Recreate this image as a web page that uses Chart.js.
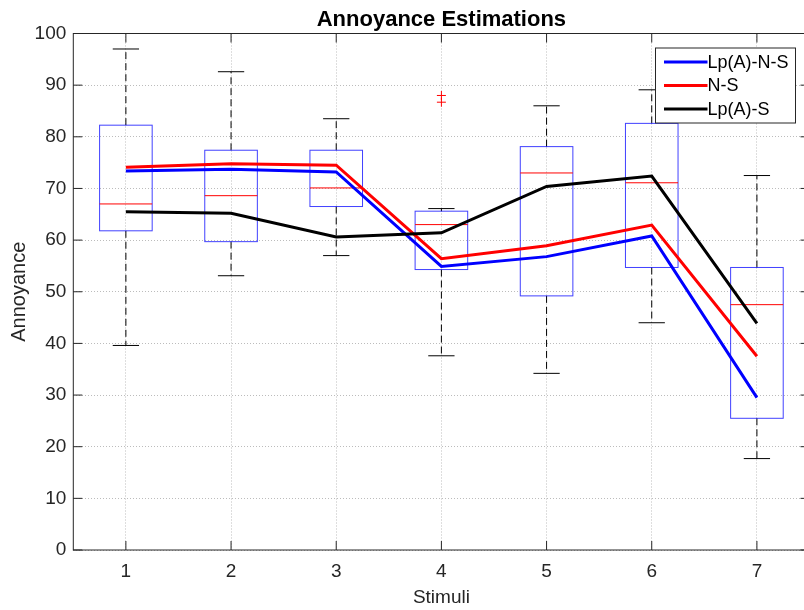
<!DOCTYPE html>
<html>
<head>
<meta charset="utf-8">
<script src="https://cdn.jsdelivr.net/npm/chart.js@4"></script>
<style>
  html, body { margin: 0; padding: 0; background: #fff; overflow: hidden; }
  canvas { display: block; }
</style>
</head>
<body>
<!-- canvas a bit wider than the window: the figure's right axis is cut off -->
<canvas id="annoyChart" width="812" height="610"></canvas>
<script>
// data
const stimuli = [1, 2, 3, 4, 5, 6, 7];
const yTicks = [0, 10, 20, 30, 40, 50, 60, 70, 80, 90, 100];

const lpANS = [73.4, 73.7, 73.2, 54.9, 56.8, 60.8, 29.5];
const ns    = [74.1, 74.8, 74.5, 56.4, 58.9, 62.9, 37.5];
const lpAS  = [65.5, 65.2, 60.6, 61.4, 70.4, 72.4, 43.9];

// boxplot stats
const whiskerLow  = [39.6, 53.1, 57.0, 37.6, 34.2, 44.0, 17.7];
const boxQ1       = [61.8, 59.7, 66.5, 54.3, 49.2, 54.7, 25.5];
const boxMedian   = [67.0, 68.6, 70.1, 63.0, 73.0, 71.1, 47.5];
const boxQ3       = [82.25, 77.4, 77.4, 65.6, 78.1, 82.6, 54.7];
const whiskerHigh = [97.0, 92.6, 83.5, 66.1, 86.0, 89.1, 72.5];
const outlierX = [4, 4];
const outlierY = [88.0, 86.7];

const FONT = "'Liberation Sans', Arial, sans-serif";
const AXIS_COLOR = "#262626";

const toXY = ys => ys.map((y, i) => ({ x: stimuli[i], y: y }));

// boxes, whiskers and medians (drawn under the lines)
const boxPlugin = {
  id: "boxes",
  beforeDatasetsDraw(chart) {
    const { ctx, scales: { x, y } } = chart;
    ctx.save();
    stimuli.forEach((s, i) => {
      const xl = x.getPixelForValue(s - 0.25), xr = x.getPixelForValue(s + 0.25);
      const cl = x.getPixelForValue(s - 0.125), cr = x.getPixelForValue(s + 0.125);
      const xc = x.getPixelForValue(s);
      // whiskers
      ctx.strokeStyle = "#000";
      ctx.lineWidth = 1;
      ctx.setLineDash([7, 4]);
      ctx.beginPath();
      ctx.moveTo(xc, y.getPixelForValue(boxQ3[i]));
      ctx.lineTo(xc, y.getPixelForValue(whiskerHigh[i]));
      ctx.moveTo(xc, y.getPixelForValue(boxQ1[i]));
      ctx.lineTo(xc, y.getPixelForValue(whiskerLow[i]));
      ctx.stroke();
      ctx.setLineDash([]);
      ctx.beginPath();
      ctx.moveTo(cl, y.getPixelForValue(whiskerHigh[i]));
      ctx.lineTo(cr, y.getPixelForValue(whiskerHigh[i]));
      ctx.moveTo(cl, y.getPixelForValue(whiskerLow[i]));
      ctx.lineTo(cr, y.getPixelForValue(whiskerLow[i]));
      ctx.stroke();
      // box
      ctx.strokeStyle = "rgba(0,0,255,0.75)";
      const yt = y.getPixelForValue(boxQ3[i]), yb = y.getPixelForValue(boxQ1[i]);
      ctx.strokeRect(xl, yt, xr - xl, yb - yt);
      // median
      ctx.strokeStyle = "#ff0000";
      ctx.beginPath();
      ctx.moveTo(xl, y.getPixelForValue(boxMedian[i]));
      ctx.lineTo(xr, y.getPixelForValue(boxMedian[i]));
      ctx.stroke();
    });
    ctx.restore();
  }
};

// matlab style frame with inward ticks, title and legend
const framePlugin = {
  id: "frame",
  afterDraw(chart) {
    const { ctx, chartArea: a, scales: { x, y } } = chart;
    ctx.save();
    ctx.strokeStyle = AXIS_COLOR;
    ctx.lineWidth = 1;
    ctx.strokeRect(a.left, a.top, a.right - a.left, a.bottom - a.top);
    ctx.beginPath();
    const tl = 9;
    yTicks.forEach(v => {
      const py = y.getPixelForValue(v);
      ctx.moveTo(a.left, py); ctx.lineTo(a.left + tl, py);
      ctx.moveTo(a.right, py); ctx.lineTo(a.right - tl, py);
    });
    stimuli.forEach(v => {
      const px = x.getPixelForValue(v);
      ctx.moveTo(px, a.bottom); ctx.lineTo(px, a.bottom - tl);
      ctx.moveTo(px, a.top); ctx.lineTo(px, a.top + tl);
    });
    ctx.stroke();

    // title
    ctx.fillStyle = "#000";
    ctx.font = "bold 22px " + FONT;
    ctx.textAlign = "center";
    ctx.textBaseline = "alphabetic";
    ctx.fillText("Annoyance Estimations", (a.left + a.right) / 2, 26);

    // legend
    const series = chart.data.datasets.filter(d => d.type === "line");
    const lx = a.right - 154, ly = a.top + 14.5, lw = 140, lh = 75;
    ctx.fillStyle = "#fff";
    ctx.fillRect(lx, ly, lw, lh);
    ctx.strokeStyle = AXIS_COLOR;
    ctx.strokeRect(lx, ly, lw, lh);
    ctx.font = "18px " + FONT;
    ctx.textAlign = "left";
    ctx.textBaseline = "middle";
    series.forEach((d, i) => {
      const ry = ly + 14 + i * 23.5;
      ctx.strokeStyle = d.borderColor;
      ctx.lineWidth = 3;
      ctx.beginPath();
      ctx.moveTo(lx + 8.5, ry); ctx.lineTo(lx + 52, ry);
      ctx.stroke();
      ctx.fillStyle = "#000";
      ctx.fillText(d.label, lx + 52, ry + 1);
    });
    ctx.restore();
  }
};

const gridOpts = { color: "#bcbcbc", lineWidth: 1, drawTicks: false };

new Chart(document.getElementById("annoyChart"), {
  type: "line",
  data: {
    datasets: [
      { type: "line", label: "Lp(A)-N-S", data: toXY(lpANS), borderColor: "#0000ff", borderWidth: 3, pointRadius: 0, order: 3 },
      { type: "line", label: "N-S", data: toXY(ns), borderColor: "#ff0000", borderWidth: 3, pointRadius: 0, order: 2 },
      { type: "line", label: "Lp(A)-S", data: toXY(lpAS), borderColor: "#000000", borderWidth: 3, pointRadius: 0, order: 1 },
      { type: "scatter", label: "outliers", data: outlierX.map((v, i) => ({ x: v, y: outlierY[i] })),
        showLine: false, pointStyle: "cross", pointRadius: 4.5, borderColor: "#ff0000", borderWidth: 1, order: 4 }
    ]
  },
  options: {
    responsive: false,
    animation: false,
    layout: { autoPadding: false, padding: { top: 33.5, right: 2.5, left: 0, bottom: 0 } },
    plugins: { legend: { display: false }, title: { display: false }, tooltip: { enabled: false } },
    scales: {
      x: {
        type: "linear",
        min: 0.5,
        max: 7.5,
        afterBuildTicks: axis => { axis.ticks = stimuli.map(v => ({ value: v })); },
        afterFit: axis => { axis.height = 60; axis.paddingLeft = 0; axis.paddingRight = 0; },
        grid: gridOpts,
        border: { display: false, dash: [1, 2] },
        ticks: { color: AXIS_COLOR, font: { family: FONT, size: 19 }, padding: 10, callback: v => String(v) },
        title: { display: true, text: "Stimuli", color: AXIS_COLOR, font: { family: FONT, size: 19 }, padding: { top: 0, bottom: 1 } }
      },
      y: {
        min: 0,
        max: 100,
        afterBuildTicks: axis => { axis.ticks = yTicks.map(v => ({ value: v })); },
        afterFit: axis => { axis.width = 73.3; axis.paddingTop = 0; axis.paddingBottom = 0; },
        grid: gridOpts,
        border: { display: false, dash: [1, 2] },
        ticks: { color: AXIS_COLOR, font: { family: FONT, size: 19 }, padding: 7 },
        title: { display: true, text: "Annoyance", color: AXIS_COLOR, font: { family: FONT, size: 20 }, padding: { top: 7, bottom: 0 } }
      }
    }
  },
  plugins: [boxPlugin, framePlugin]
});
</script>
</body>
</html>
